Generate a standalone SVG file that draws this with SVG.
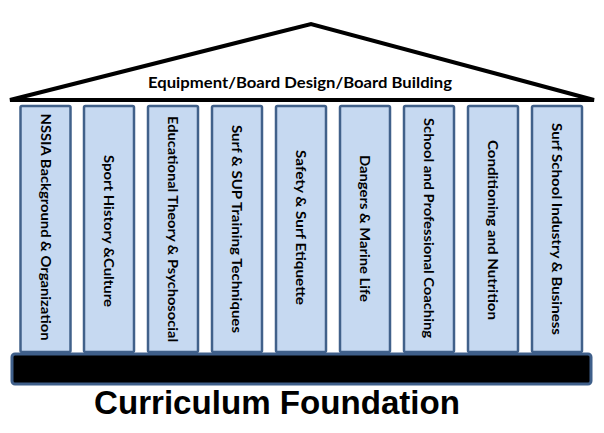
<svg xmlns="http://www.w3.org/2000/svg" width="604" height="433" viewBox="0 0 604 433">
<style>
.col{fill:#c6d9f1;stroke:#41618a;stroke-width:2.5}
.lbl{font-family:Lato,"Open Sans",sans-serif;font-weight:bold;font-size:13.5px;fill:#000;text-anchor:middle;dominant-baseline:central}
.roof{fill:#fff;stroke:#000;stroke-width:4;stroke-linejoin:miter}
</style>
<rect width="604" height="433" fill="#fff"/>
<g id="roof">
<polygon class="roof" points="10,100 311,24 594,100"/>
<text x="300" y="88" font-family="Lato,'Open Sans',sans-serif" font-weight="bold" font-size="14.5" text-anchor="middle" textLength="304" lengthAdjust="spacingAndGlyphs">Equipment/Board Design/Board Building</text>
</g>
<g id="col1"><rect class="col" x="20.5" y="106" width="50" height="246" rx="1.5"/><text class="lbl" transform="translate(45.5,227) rotate(90)" textLength="227" lengthAdjust="spacingAndGlyphs">NSSIA Background &amp; Organization</text></g>
<g id="col2"><rect class="col" x="84" y="106" width="50" height="246" rx="1.5"/><text class="lbl" transform="translate(109,231) rotate(90)" textLength="152" lengthAdjust="spacingAndGlyphs">Sport History &amp;Culture</text></g>
<g id="col3"><rect class="col" x="148" y="106" width="50" height="246" rx="1.5"/><text class="lbl" transform="translate(173,229) rotate(90)" textLength="226" lengthAdjust="spacingAndGlyphs">Educational Theory &amp; Psychosocial</text></g>
<g id="col4"><rect class="col" x="212" y="106" width="50" height="246" rx="1.5"/><text class="lbl" transform="translate(237,229) rotate(90)" textLength="208" lengthAdjust="spacingAndGlyphs">Surf &amp; SUP Training Techniques</text></g>
<g id="col5"><rect class="col" x="276" y="106" width="50" height="246" rx="1.5"/><text class="lbl" transform="translate(301,227.5) rotate(90)" textLength="155" lengthAdjust="spacingAndGlyphs">Safety  &amp; Surf Etiquette</text></g>
<g id="col6"><rect class="col" x="340" y="106" width="50" height="246" rx="1.5"/><text class="lbl" transform="translate(365,228.5) rotate(90)" textLength="147" lengthAdjust="spacingAndGlyphs">Dangers &amp; Marine Life</text></g>
<g id="col7"><rect class="col" x="404" y="106" width="50" height="246" rx="1.5"/><text class="lbl" transform="translate(429,228) rotate(90)" textLength="220" lengthAdjust="spacingAndGlyphs">School and Professional Coaching</text></g>
<g id="col8"><rect class="col" x="468" y="106" width="50" height="246" rx="1.5"/><text class="lbl" transform="translate(493,230) rotate(90)" textLength="180" lengthAdjust="spacingAndGlyphs">Conditioning and Nutrition</text></g>
<g id="col9"><rect class="col" x="532" y="106" width="50" height="246" rx="1.5"/><text class="lbl" transform="translate(557,229) rotate(90)" textLength="212" lengthAdjust="spacingAndGlyphs">Surf School Industry  &amp; Business</text></g>
<g id="base"><rect x="12" y="354" width="579" height="30" rx="3" fill="#000" stroke="#3f5f8a" stroke-width="3"/></g>
<g id="connectors"></g>
<text x="94" y="414" font-family="'Liberation Sans',Arial,sans-serif" font-weight="bold" font-size="33" textLength="366" lengthAdjust="spacingAndGlyphs">Curriculum Foundation</text>
</svg>
